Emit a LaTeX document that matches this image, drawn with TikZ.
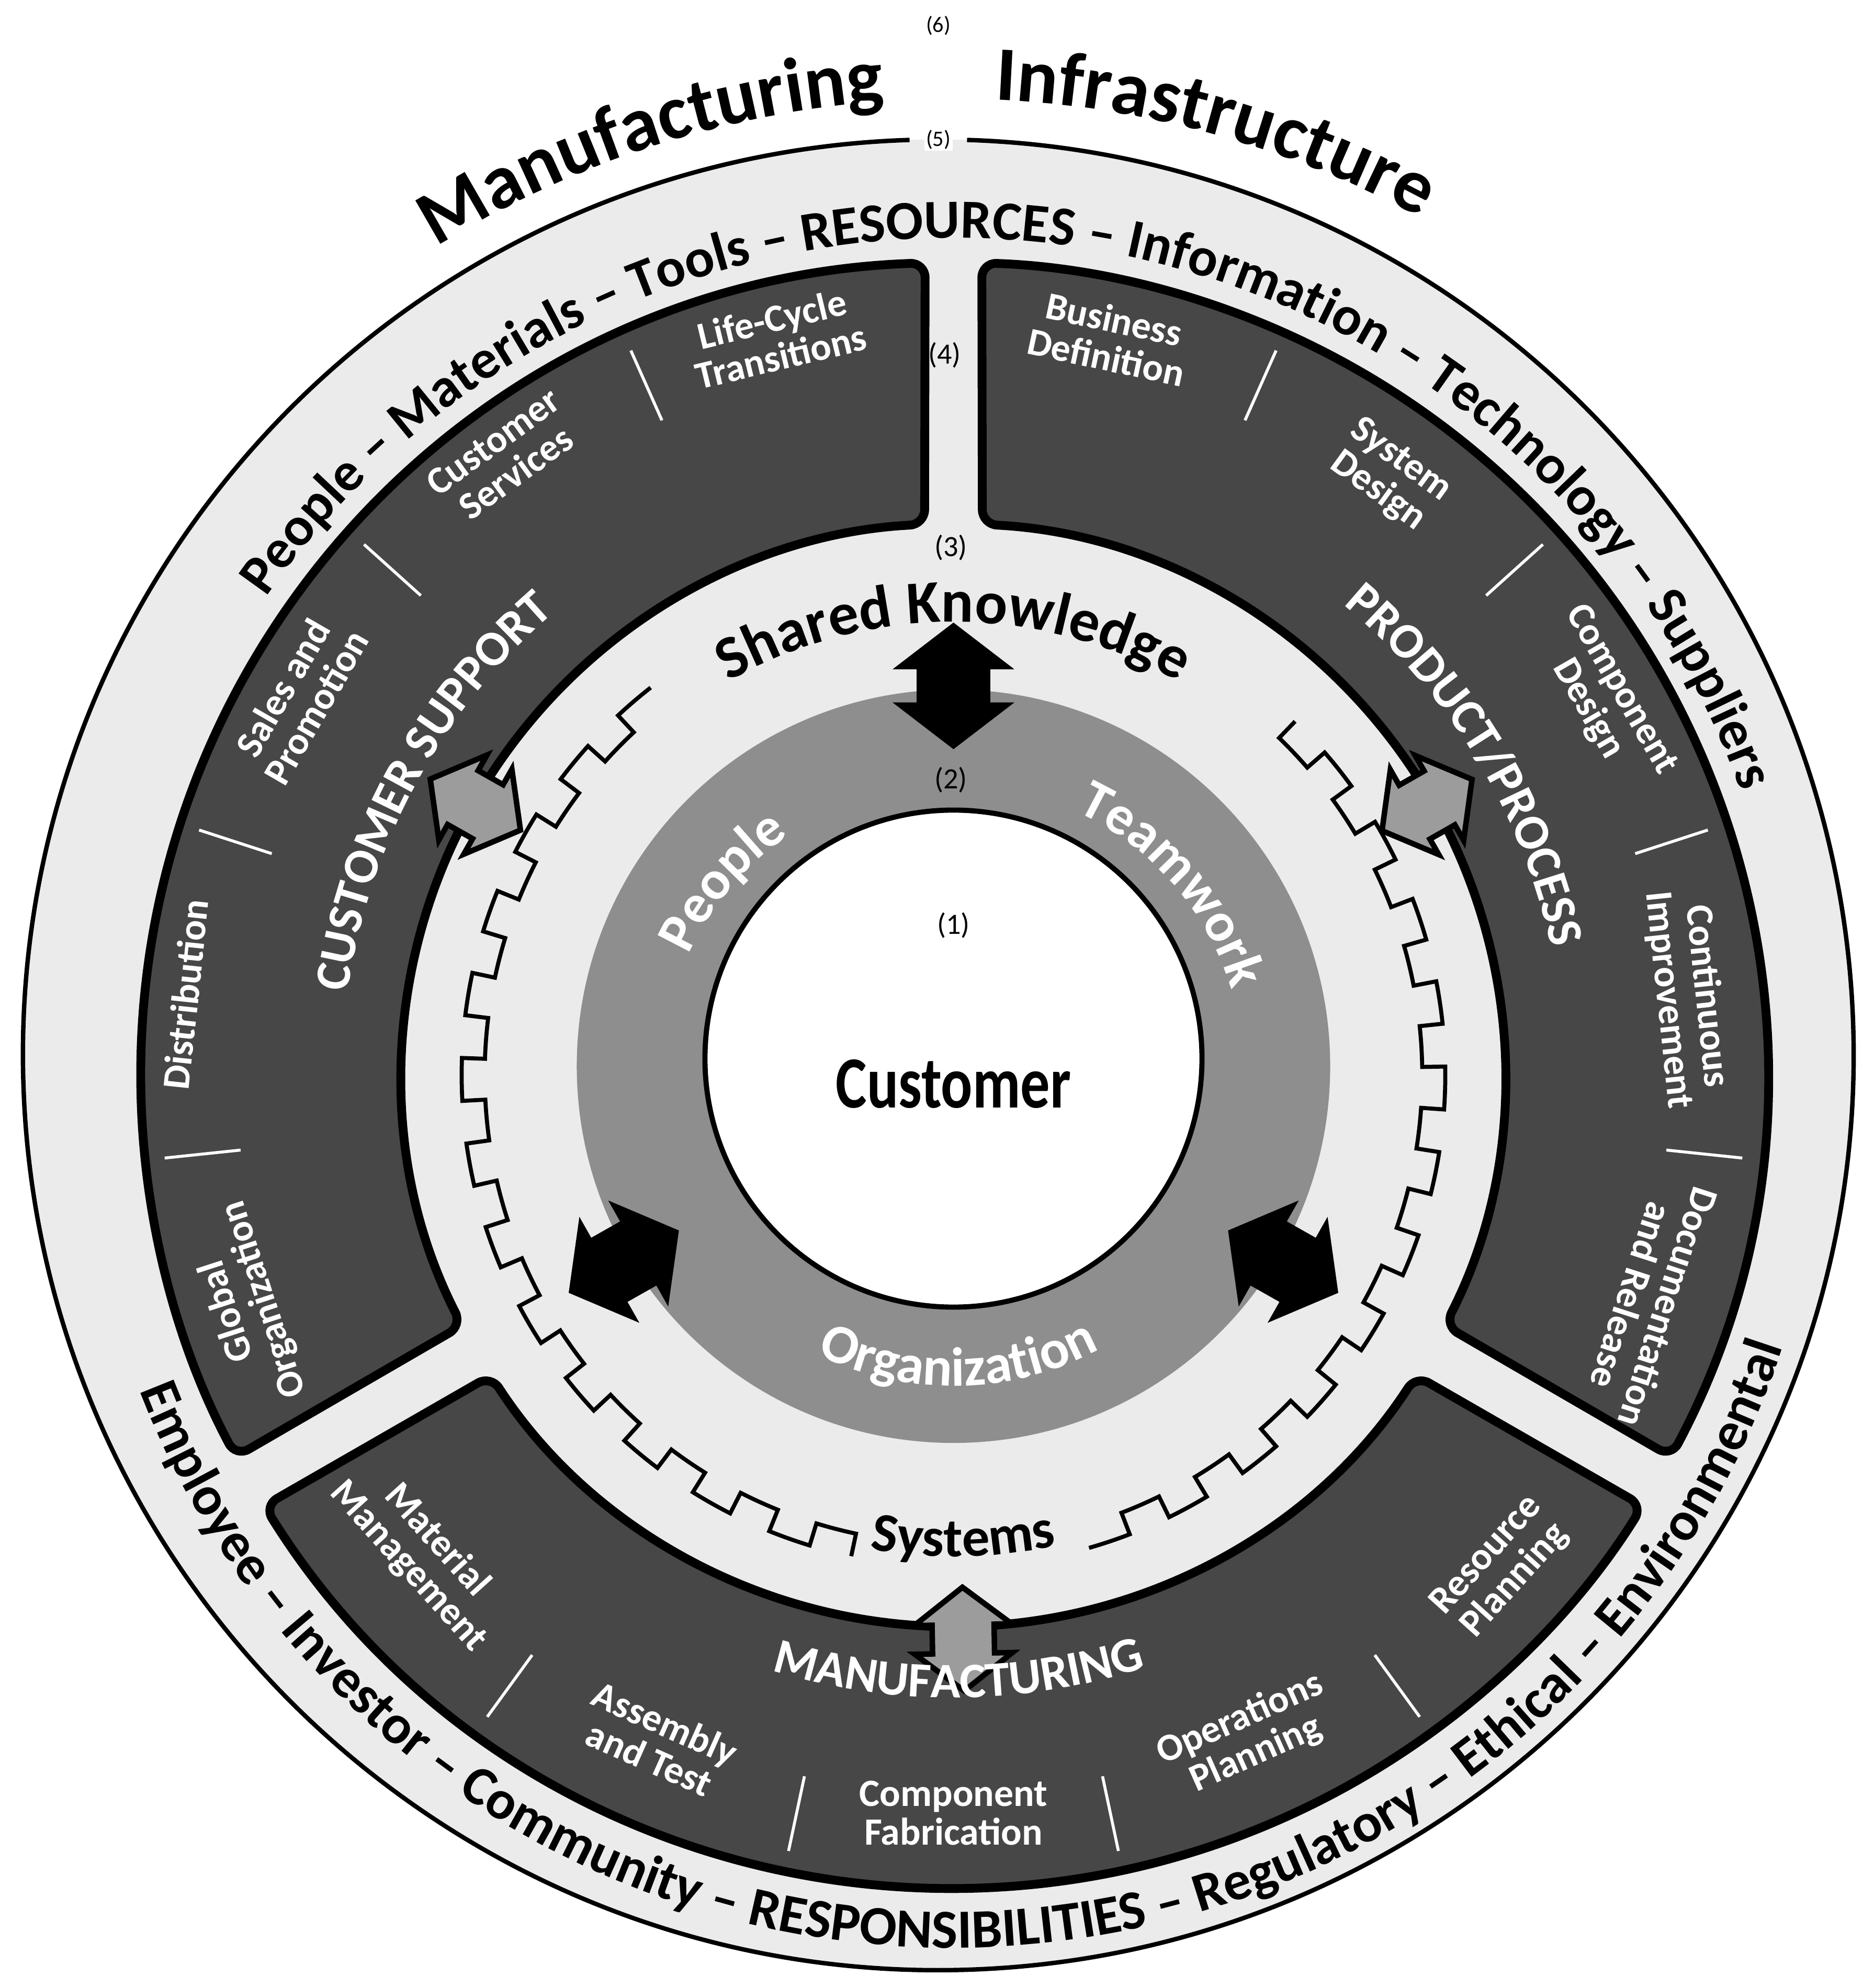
\documentclass[tikz,border=0pt]{standalone}
\usepackage{fontspec}
\setmainfont{Carlito}
\newfontfamily\narrowfont[FakeStretch=0.8]{Carlito}
\usepackage{tikz}
\usetikzlibrary{decorations.text,shapes.arrows}
\definecolor{band}{HTML}{474747}
\definecolor{wash}{HTML}{EBEBEB}
\definecolor{ring}{HTML}{8E8E8E}
\definecolor{pale}{HTML}{9C9C9C}
\newcommand{\fsz}[1]{\fontsize{#1}{#1}\selectfont}

\begin{document}
\begin{tikzpicture}[
  seg/.style={fill=band,draw=black,line width=2.4pt,rounded corners=4pt},
  divider/.style={draw=white,line width=0.8pt},
  gear/.style={draw=black,line width=1.1pt},
  sub/.style={text=white,font=\fsz{10.5pt}\bfseries,align=center,inner sep=0pt},
  tag/.style={font=\fsz{8pt},inner sep=1pt},
  bigarr/.style={double arrow,fill=black,inner xsep=0pt,inner ysep=0.345cm,minimum height=1.21cm,
    double arrow head extend=0.23cm,double arrow tip angle=105},
  palearr/.style={double arrow,fill=pale,draw=black,line width=1.5pt,inner xsep=0pt,inner ysep=0.27cm,
    minimum height=0.99cm,double arrow head extend=0.17cm,double arrow tip angle=105}]
  \useasboundingbox (-9.112,-8.724) rectangle (8.688,10.275);
  \fill[white] (-9.112,-8.724) rectangle (8.688,10.275);

  % outer ring (5)
  \fill[wash] (-0.145,0.194) circle[radius=8.748];
  \draw[line width=1.2pt] (-0.145,0.194) ++(91.8:8.748) arc[start angle=91.8,end angle=448.2,radius=8.748];

  % three function segments (4)
  \foreach \g in {90,210,330}
    \draw[seg] ({\g+2}:7.767) arc[start angle=\g+2,end angle=\g+118,radius=7.767]
      -- ({\g+117}:5.271) arc[start angle=\g+117,end angle=\g+3,radius=5.271] -- cycle;
  \foreach \a in {114,138,162,186,66,42,18,-6,234,258,282,306}
    \draw[divider] (\a:6.85) -- (\a:7.58);

  % gear line (3)
  \draw[gear] (128:4.70) \foreach \t in {128,138,...,248}
    { arc[start angle=\t,delta angle=5,radius=4.70] -- ({\t+5}:4.48)
      arc[start angle=\t+5,delta angle=5,radius=4.48] -- ({\t+10}:4.70) };
  \draw[gear] (-74:4.70) \foreach \t in {-74,-64,...,44}
    { arc[start angle=\t,delta angle=5,radius=4.70] -- ({\t+5}:4.48)
      arc[start angle=\t+5,delta angle=5,radius=4.48] -- ({\t+10}:4.70) };

  % core (2) and customer (1)
  \fill[ring] (0,0.085) circle[radius=3.60];
  \draw[fill=white,line width=1.4pt] (0,0.158) circle[radius=2.375];
  \node[font=\narrowfont\fsz{20pt}\bfseries] (cust) at (0,-0.085) {Customer};

  % block arrows
  \node[bigarr,rotate=90] (knA) at (90:3.72) {};
  \node[bigarr,rotate=209.5] (orgL) at (209.5:3.62) {};
  \node[bigarr,rotate=330.5] (orgR) at (330.5:3.62) {};
  \node[palearr,rotate=150.5] (csA) at (150.5:5.25) {};
  \node[palearr,rotate=29.7] (ppA) at (29.7:5.21) {};
  \node[palearr,rotate=271] (mfA) at (271:5.39) {};

  % level tags
  \node[tag] (t1) at (0,1.43) {(1)};
  \node[tag] (t2) at (-0.024,2.823) {(2)};
  \node[tag] (t3) at (-0.024,5.04) {(3)};
  \node[tag] (t4) at (-0.085,6.88) {(4)};
  \node[tag,font=\fsz{6pt},fill=white,inner sep=0.5pt] (t5) at (-0.145,8.942) {(5)};
  \node[tag,font=\fsz{6pt}] (t6) at (-0.145,10.03) {(6)};

  % curved titles
  \path[decorate,decoration={text along path,text align=center,text={|\fsz{21pt}\bfseries|Manufacturing}}]
    (128:9.33) arc[start angle=128,end angle=88,radius=9.33];
  \path[decorate,decoration={text along path,text align=center,text={|\fsz{21pt}\bfseries|Infrastructure}}]
    (94.5:9.33) arc[start angle=94.5,end angle=54.5,radius=9.33];
  \path[decorate,decoration={text along path,text align=center,
    text={|\fsz{15pt}\bfseries|People – Materials – Tools – RESOURCES – Information – Technology – Suppliers}}]
    (157.5:8.0) arc[start angle=157.5,end angle=7.5,radius=8.0];
  \path[decorate,decoration={text along path,text align=center,
    text={|\fsz{15pt}\bfseries|Employee – Investor – Community – RESPONSIBILITIES – Regulatory – Ethical – Environmental}}]
    (191.5:8.34) arc[start angle=191.5,end angle=351.5,radius=8.34];
  \path[decorate,decoration={text along path,text align=center,text={|\fsz{16.5pt}\bfseries|Shared Knowledge}}]
    (135:4.33) arc[start angle=135,end angle=45,radius=4.33];
  \path[decorate,decoration={text along path,text align=center,text={|\fsz{15pt}\bfseries|Systems}}]
    (246.2:4.60) arc[start angle=246.2,end angle=296.2,radius=4.60];

  % segment titles
  \path[decorate,decoration={text along path,text align=center,text color=white,
    text={|\fsz{13.5pt}\bfseries|CUSTOMER SUPPORT}}]
    (186.5:5.84) arc[start angle=186.5,end angle=116.5,radius=5.84];
  \path[decorate,decoration={text along path,text align=center,text color=white,
    text={|\fsz{13.5pt}\bfseries|PRODUCT/PROCESS}}]
    (66.2:5.84) arc[start angle=66.2,end angle=-3.8,radius=5.84];
  \path[decorate,decoration={text along path,text align=center,text color=white,
    text={|\fsz{13.5pt}\bfseries|MANUFACTURING}}]
    (240.5:5.95) arc[start angle=240.5,end angle=300.5,radius=5.95];

  % core words
  \path[decorate,decoration={text along path,text align=center,text color=white,text={|\fsz{15pt}\bfseries|People}}]
    (170:2.78) arc[start angle=170,end angle=110,radius=2.78];
  \path[decorate,decoration={text along path,text align=center,text color=white,text={|\fsz{15pt}\bfseries|Teamwork}}]
    (76:2.78) arc[start angle=76,end angle=6,radius=2.78];
  \path[decorate,decoration={text along path,text align=center,text color=white,text={|\fsz{15pt}\bfseries|Organization}}]
    (231:2.97) arc[start angle=231,end angle=311,radius=2.97];

  % sub-functions
  \foreach \a/\rad/\lab in {103.5/7.25/{Life-Cycle\\Transitions}, 126/7.30/{Customer\\Services},
      150/7.22/{Sales and\\Promotion}, 174/7.38/{Distribution}, 198/7.11/{Global\\Organization},
      78/7.20/{Business\\Definition}, 54/7.08/{System\\Design}, 30/7.18/{Component\\Design},
      6/7.05/{Continuous\\Improvement}, -18/7.00/{Documentation\\and Release}}
    \node[sub,rotate=\a-90] (lbl\a) at (\a:\rad) {\lab};
  \foreach \a/\rad/\lab in {222/6.83/{Material\\Management}, 246/6.96/{Assembly\\and Test},
      270/7.05/{Component\\Fabrication}, 294/6.92/{Operations\\Planning}, 318/7.04/{Resource\\Planning}}
    \node[sub,rotate=\a+90] (lbl\a) at (\a:\rad) {\lab};
\end{tikzpicture}
\end{document}
